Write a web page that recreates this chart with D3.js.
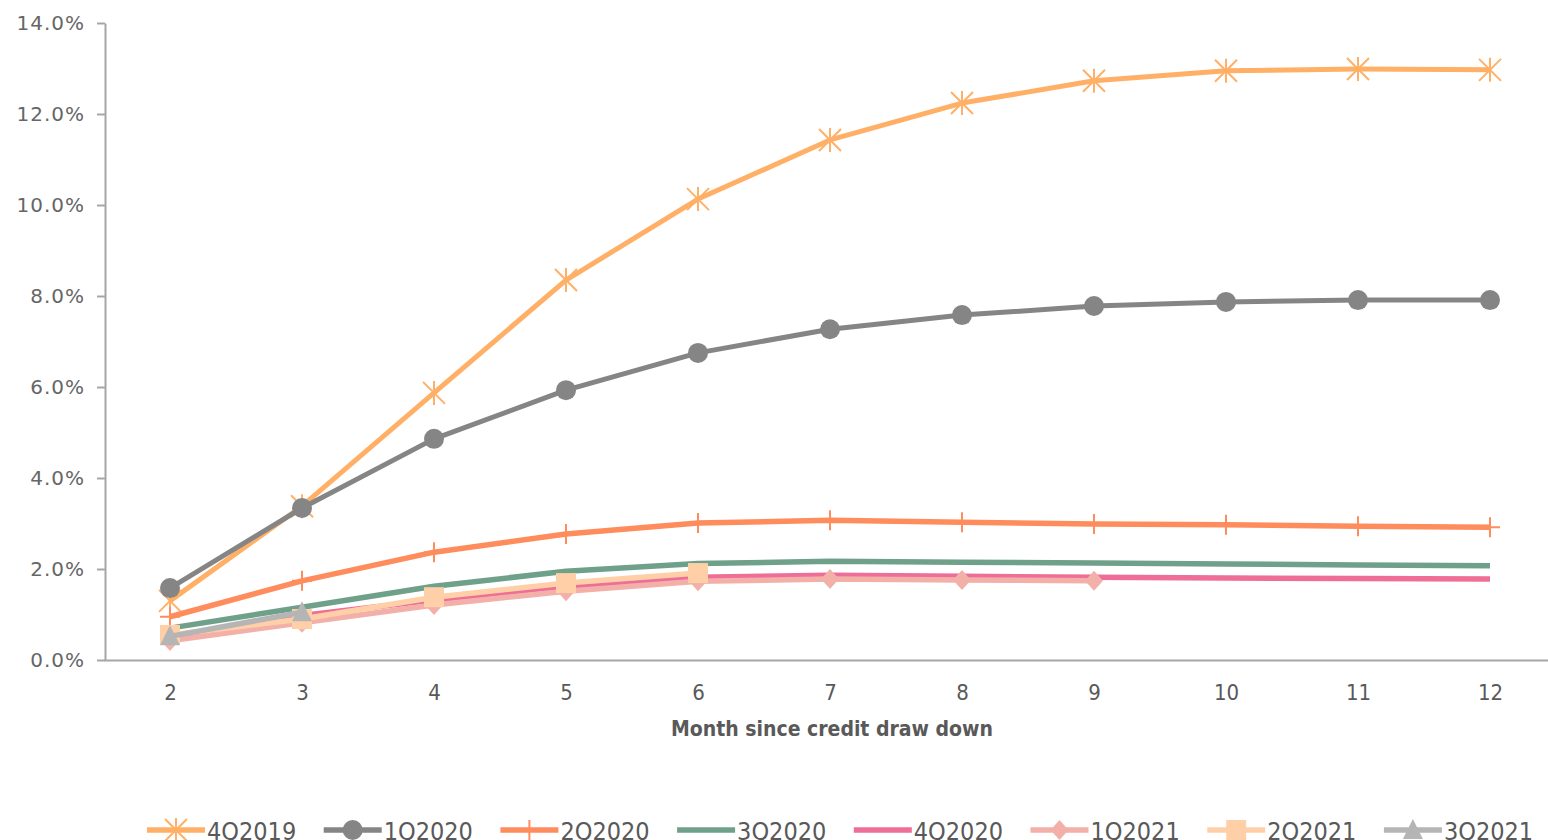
<!DOCTYPE html>
<html>
<head>
<meta charset="utf-8">
<script src="https://cdn.jsdelivr.net/npm/d3@7"></script>
<style>
    body { margin: 0; background: #fff; }
    svg { display: block; }
    .axis path, .axis line { stroke: #a6a6a6; stroke-width: 2; }
    .ylab { font-family: "DejaVu Sans", sans-serif; font-size: 20px; fill: #666; letter-spacing: 1px; }
    .xlab { font-family: "DejaVu Sans Condensed", "Liberation Sans Narrow", "DejaVu Sans", sans-serif; font-size: 22px; fill: #595959; }
    .xtitle { font-family: "DejaVu Sans Condensed", "Open Sans", sans-serif; font-weight: bold; font-size: 21px; fill: #595959; }
    .legend text { font-family: "DejaVu Sans Condensed", "Liberation Sans Narrow", "DejaVu Sans", sans-serif; font-size: 25px; fill: #595959; }
</style>
</head>
<body>
<svg id="chart" width="1548" height="840"></svg>
<script>
// categories + tick labels
const months = [2, 3, 4, 5, 6, 7, 8, 9, 10, 11, 12];
const yTicks = [0, 2, 4, 6, 8, 10, 12, 14];
const xTitle = "Month since credit draw down";

// series values (% of balance)
const seriesNames = ["4Q2019", "1Q2020", "2Q2020", "3Q2020", "4Q2020", "1Q2021", "2Q2021", "3Q2021"];
const s4Q2019 = [1.30, 3.38, 5.87, 8.35, 10.13, 11.43, 12.24, 12.73, 12.95, 12.99, 12.97];
const s1Q2020 = [1.58, 3.34, 4.86, 5.93, 6.75, 7.27, 7.58, 7.78, 7.87, 7.91, 7.91];
const s2Q2020 = [0.95, 1.74, 2.37, 2.77, 3.01, 3.07, 3.03, 2.99, 2.97, 2.94, 2.92];
const s3Q2020 = [0.70, 1.16, 1.62, 1.95, 2.12, 2.17, 2.15, 2.13, 2.11, 2.09, 2.07];
const s4Q2020 = [0.50, 0.98, 1.32, 1.62, 1.82, 1.86, 1.84, 1.82, 1.80, 1.79, 1.78];
const s1Q2021 = [0.42, 0.82, 1.21, 1.51, 1.73, 1.78, 1.76, 1.74];
const s2Q2021 = [0.55, 0.90, 1.38, 1.69, 1.91];
const s3Q2021 = [0.52, 1.05];

const seriesValues = [s4Q2019, s1Q2020, s2Q2020, s3Q2020, s4Q2020, s1Q2021, s2Q2021, s3Q2021];

// styling per series (same order as names)
const colors = ["#ffb066", "#858585", "#ff8c5c", "#6fa08a", "#ee6e97", "#f2b0a9", "#ffd0a8", "#b5b5b5"];
const markers = ["star", "circle", "plus", "none", "none", "diamond", "square", "triangle"];

const svg = d3.select("#chart");

const x = d3.scalePoint().domain(months).range([104, 1556]).padding(0.5);
const y = d3.scaleLinear().domain([0, 14]).range([660, 23]);

// y axis
const yAxis = svg.append("g")
    .attr("class", "axis")
    .attr("transform", "translate(105,0)")
    .call(d3.axisLeft(y).tickValues(yTicks).tickSize(8).tickSizeOuter(0).tickPadding(12)
        .tickFormat(d => d.toFixed(1) + "%"));
yAxis.selectAll("text").attr("class", "ylab").attr("fill", null);

// x axis (no tick marks)
const xAxis = svg.append("g")
    .attr("class", "axis")
    .attr("transform", "translate(0," + y(0) + ")")
    .call(d3.axisBottom(x).tickSize(0).tickSizeOuter(0).tickPadding(24));
xAxis.selectAll("text").attr("class", "xlab").attr("fill", null);

svg.append("text")
    .attr("class", "xtitle")
    .attr("x", 832)
    .attr("y", 736)
    .attr("text-anchor", "middle")
    .text(xTitle);

// marker drawing, Excel-ish shapes
function drawMarker(g, type, color, cx, cy) {
    if (type === "circle") {
        g.append("circle").attr("cx", cx).attr("cy", cy).attr("r", 10).attr("fill", color);
    } else if (type === "square") {
        g.append("rect").attr("x", cx - 10).attr("y", cy - 10).attr("width", 20).attr("height", 20).attr("fill", color);
    } else if (type === "diamond") {
        g.append("path").attr("d", `M${cx},${cy - 10}L${cx + 9},${cy}L${cx},${cy + 10}L${cx - 9},${cy}Z`).attr("fill", color);
    } else if (type === "triangle") {
        g.append("path").attr("d", `M${cx},${cy - 11}L${cx + 10},${cy + 9}L${cx - 10},${cy + 9}Z`).attr("fill", color);
    } else if (type === "star") {
        const r = 11;
        g.append("path")
            .attr("d", `M${cx - r},${cy - r}L${cx + r},${cy + r}M${cx - r},${cy + r}L${cx + r},${cy - r}M${cx},${cy - r - 1}L${cx},${cy + r + 1}`)
            .attr("stroke", color).attr("stroke-width", 2).attr("fill", "none");
    } else if (type === "plus") {
        const r = 10;
        g.append("path")
            .attr("d", `M${cx},${cy - r}L${cx},${cy + r}M${cx - r},${cy}L${cx + r},${cy}`)
            .attr("stroke", color).attr("stroke-width", 2).attr("fill", "none");
    }
}

const line = d3.line()
    .x((d, i) => x(months[i]))
    .y(d => y(d));

const plot = svg.append("g").attr("class", "series");

seriesValues.forEach(function (vals, k) {
    const g = plot.append("g");
    g.append("path")
        .attr("d", line(vals))
        .attr("fill", "none")
        .attr("stroke", colors[k])
        .attr("stroke-width", k < 2 ? 5 : 5.5)
        .attr("stroke-linejoin", "round");
    vals.forEach(function (v, i) {
        drawMarker(g, markers[k], colors[k], x(months[i]), y(v));
    });
});

// legend along the bottom (gets cut by the frame, like the original)
const legend = svg.append("g").attr("class", "legend");
const legendStep = 176.7;
seriesNames.forEach(function (name, k) {
    const lx = 147 + k * legendStep;
    const ly = 830;
    const g = legend.append("g");
    g.append("line")
        .attr("x1", lx).attr("x2", lx + 58)
        .attr("y1", ly).attr("y2", ly)
        .attr("stroke", colors[k]).attr("stroke-width", 5.5);
    drawMarker(g, markers[k], colors[k], lx + 29, ly);
    g.append("text")
        .attr("x", lx + 60)
        .attr("y", ly + 10)
        .text(name);
});
</script>
</body>
</html>
